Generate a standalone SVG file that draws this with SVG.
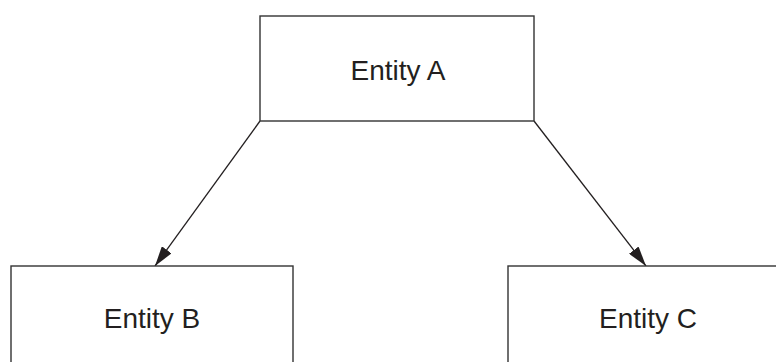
<svg xmlns="http://www.w3.org/2000/svg" width="776" height="362" viewBox="0 0 776 362">
<style>
.box{fill:#fff;stroke:#333;stroke-width:1.4}
.lbl{font-family:"Liberation Sans",Arial,sans-serif;font-size:28px;fill:#231f20;text-anchor:middle}
.conn{stroke:#231f20;stroke-width:1.3;fill:none}
</style>
<defs>
<marker id="arr" viewBox="0 0 20 12" refX="20" refY="6" markerWidth="20" markerHeight="12" markerUnits="userSpaceOnUse" orient="auto">
<path d="M0,0 L20,6 L0,12 Z" fill="#231f20"/>
</marker>
</defs>
<rect width="776" height="362" fill="#fff"/>
<g id="connectors">
<line class="conn" x1="260" y1="121" x2="155" y2="266" marker-end="url(#arr)"/>
<line class="conn" x1="534" y1="121" x2="646" y2="266" marker-end="url(#arr)"/>
</g>
<g id="entityA">
<rect class="box" x="260" y="16" width="274" height="105"/>
<text class="lbl" x="398" y="80">Entity A</text>
</g>
<g id="entityB">
<rect class="box" x="11" y="266" width="282" height="105"/>
<text class="lbl" x="152" y="328">Entity B</text>
</g>
<g id="entityC">
<rect class="box" x="508" y="266" width="282" height="105"/>
<text class="lbl" x="648" y="328">Entity C</text>
</g>
</svg>
